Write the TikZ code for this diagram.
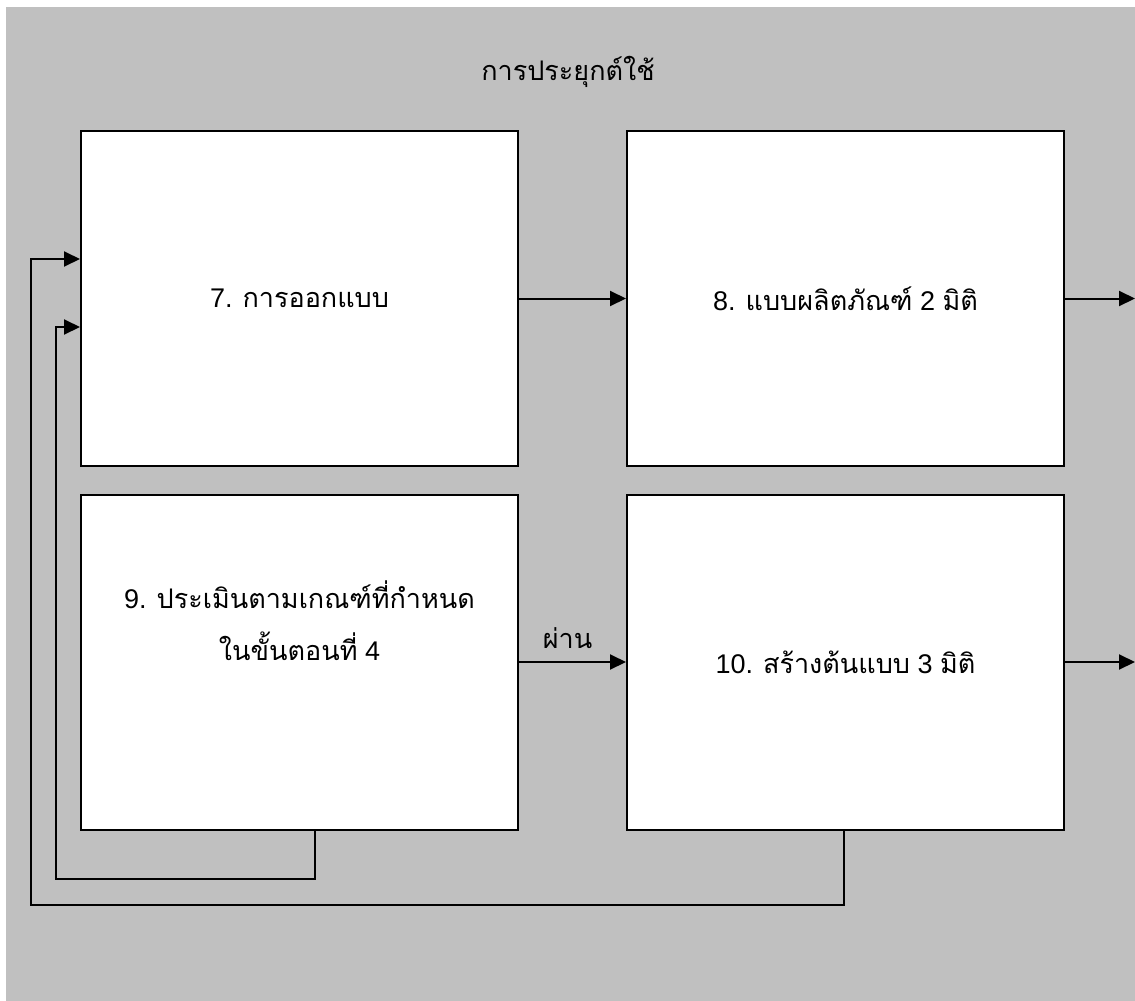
\documentclass[tikz,border=0pt]{standalone}
\usepackage{fontspec}
\setmainfont{Liberation Sans}
\newfontfamily\thai[Script=Thai]{Loma}
\usetikzlibrary{arrows.meta}
\definecolor{bggray}{RGB}{192,192,192}
\tikzset{
  box/.style={draw=black, fill=white, line width=2pt, minimum width=437pt, minimum height=335pt, inner sep=0pt, font=\fontsize{27}{30}\selectfont},
  conn/.style={draw=black, line width=2pt},
  arr/.style={conn, -{Triangle[length=16pt,width=15pt]}},
  lbl/.style={font=\fontsize{27}{30}\selectfont, inner sep=0pt}
}
\begin{document}
\begin{tikzpicture}[x=1pt,y=-1pt]
\useasboundingbox (0,0) rectangle (1135,1001);
\fill[bggray] (6,7) rectangle (1135,1001);
\node[lbl] (title) at (568,72) {\thai การประยุกต์ใช้};
\node[box] (b7) at (299.5,298.5) {7. {\thai การออกแบบ}};
\node[box] (b8) at (845.5,298.5) {8. {\thai แบบผลิตภัณฑ์} 2 {\thai มิติ}};
\node[box] (b9) at (299.5,662) {};
\node[box] (b10) at (845.5,662) {10. {\thai สร้างต้นแบบ} 3 {\thai มิติ}};
\node[lbl, align=center, font=\fontsize{27}{52}\selectfont] (t9) at (299.5,621) {9. {\thai ประเมินตามเกณฑ์ที่กำหนด}\\{\thai ในขั้นตอนที่} 4};
\coordinate (o8) at (1135,298.5);
\coordinate (o10) at (1135,662);
\draw[arr] (b7.east) -- (b8.west);
\draw[arr] (b8.east) -- (o8);
\draw[arr] (b10.east) -- (o10);
\draw[arr] (b9.east) -- node[lbl, above=12pt, xshift=-5pt] (pass) {\thai ผ่าน} (b10.west);
\coordinate (s9) at (b9.south -| 315,0);
\coordinate (s10) at (b10.south -| 844,0);
\coordinate (in1) at (b7.west |- 0,259);
\coordinate (in2) at (b7.west |- 0,327);
\draw[arr] (s9) -- (315,879) -- (56,879) -- (56,327) -- (in2);
\draw[arr] (s10) -- (844,905) -- (31,905) -- (31,259) -- (in1);
\end{tikzpicture}
\end{document}
